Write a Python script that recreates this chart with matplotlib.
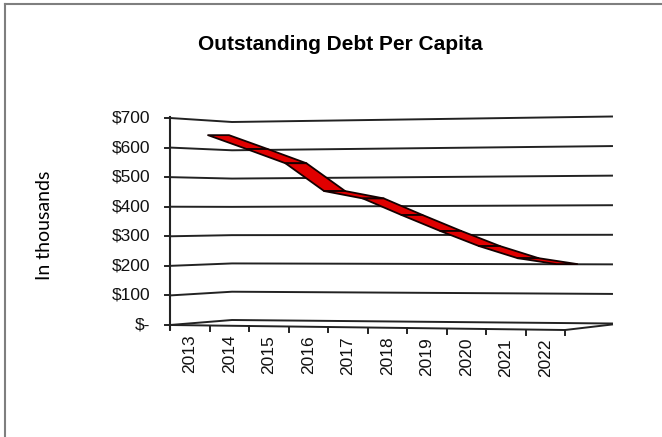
import matplotlib
matplotlib.use('Agg')
import matplotlib.pyplot as plt
from matplotlib.patches import Polygon
from matplotlib.lines import Line2D
import numpy as np

# ---- data ----
years = ['2013', '2014', '2015', '2016', '2017', '2018', '2019', '2020', '2021', '2022']
debt = [642, 595, 547, 453, 428, 372, 318, 267, 226, 206]
y_ticks = [0, 100, 200, 300, 400, 500, 600, 700]
y_tick_labels = ['$-', '$100', '$200', '$300', '$400', '$500', '$600', '$700']
title = 'Outstanding Debt Per Capita'
y_label = 'In thousands'

# ---- layout (pixels) ----
W, H = 662, 437
fig = plt.figure(figsize=(W / 100, H / 100), dpi=100)
L, R, T, B = 170, 612, 110, 335
ax = fig.add_axes([L / W, 1 - B / H, (R - L) / W, (B - T) / H])
cat_px = 39.5
ppv = 207 / 700.0
y0px = 325
xmax = (R - L) / cat_px
ax.set_xlim(0, xmax)
ax.set_ylim(-(B - y0px) / ppv, (y0px - T) / ppv)
ax.axis('off')

def pv(p):
    return p / ppv

def px(p):
    return p / cat_px

grid_col = '#222222'
FONT = 'Liberation Sans'

# perspective gridlines (back wall)
for v in y_ticks:
    mid_off = 5 - 9 * v / 700.0
    xs = [0, px(62), xmax]
    ys = [v, v + pv(mid_off), v + pv(1.5)]
    ax.plot(xs, ys, color=grid_col, lw=1.4, solid_joinstyle='round', zorder=1, clip_on=False)

# floor front edge
fx = [0, px(395), xmax]
fy = [0, -pv(5), pv(0.5)]
ax.plot(fx, fy, color=grid_col, lw=1.4, zorder=1, clip_on=False)

def floor_y(x):
    return np.interp(x, fx, fy)

# left axis line and ticks
ax.plot([0, 0], [-pv(4), 700 + pv(1)], color=grid_col, lw=1.5, zorder=2, clip_on=False)
for v, lab in zip(y_ticks, y_tick_labels):
    ax.plot([-px(5), 0], [v, v], color=grid_col, lw=1.4, clip_on=False)
    ax.text(-px(20), v, lab, ha='right', va='center', fontsize=12.5, family=FONT, color='#111111')

# category ticks and labels
for k in range(len(years) + 1):
    yf = floor_y(k)
    ax.plot([k, k], [yf, yf - pv(5)], color=grid_col, lw=1.4, clip_on=False)
for i, yr in enumerate(years):
    xc = i + 0.5
    ax.text(xc, floor_y(xc) - pv(9), yr, rotation=90, ha='center', va='top',
            fontsize=12.5, family=FONT, color='#111111')

# 3D ribbon series
depth_dx = px(21)
depth_dy = 0.0
x0 = px(38)
step = 38.7 / cat_px
xs = [x0 + step * i for i in range(len(debt))]
for i in range(len(debt) - 1):
    p1 = (xs[i], debt[i])
    p2 = (xs[i + 1], debt[i + 1])
    poly = [p1, p2, (p2[0] + depth_dx, p2[1] + depth_dy), (p1[0] + depth_dx, p1[1] + depth_dy)]
    ax.add_patch(Polygon(poly, closed=True, facecolor='#e00000', edgecolor='#140000',
                         lw=1.3, joinstyle='round', zorder=5))

# title and axis label
fig.text(340 / W, 1 - 45 / H, title, ha='center', va='center', fontsize=15,
         fontweight='bold', family=FONT, color='black')
fig.text(45 / W, 1 - 225 / H, y_label, ha='center', va='center', rotation=90,
         fontsize=14, family='Lato', color='black')

# outer border (left and top)
fig.add_artist(Line2D([5 / W, 5 / W], [0, 1 - 4 / H], transform=fig.transFigure, color='#7f7f7f', lw=1.5))
fig.add_artist(Line2D([5 / W, 1], [1 - 4 / H, 1 - 4 / H], transform=fig.transFigure, color='#7f7f7f', lw=1.5))

fig.savefig('out.png', dpi=100, facecolor='white')
